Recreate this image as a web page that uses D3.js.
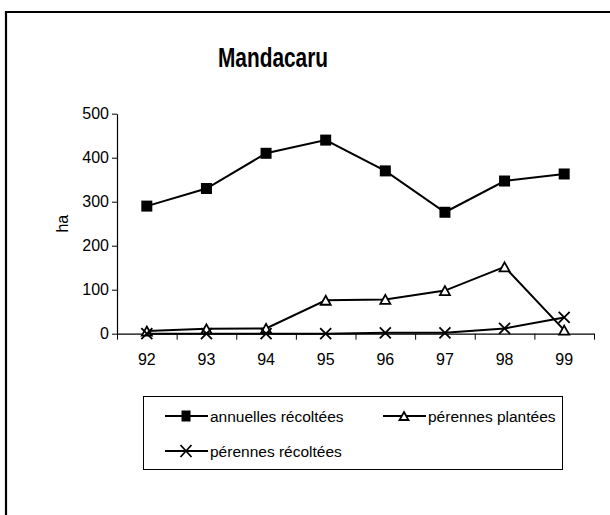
<!DOCTYPE html>
<html>
<head>
<meta charset="utf-8">
<script src="https://cdn.jsdelivr.net/npm/d3@7"></script>
<style>
  body { margin: 0; background: #fff; }
  text { font-family: "Liberation Sans", Arial, sans-serif; fill: #000; }
</style>
</head>
<body>
<div id="chart"></div>
<script>
// years on the x axis
var years = ["92", "93", "94", "95", "96", "97", "98", "99"];
// surfaces in ha
var annuellesRecoltees = [290, 330, 410, 440, 370, 276, 347, 363];
var perennesPlantees   = [6, 11, 12, 76, 78, 98, 152, 8];
var perennesRecoltees  = [0, 0, 0, 0, 2, 2, 12, 37];
var yTicks = [0, 100, 200, 300, 400, 500];

var series = [
  {name: "annuelles récoltées", values: annuellesRecoltees, marker: "square"},
  {name: "pérennes plantées", values: perennesPlantees, marker: "triangle"},
  {name: "pérennes récoltées", values: perennesRecoltees, marker: "cross"}
];

var width = 610, height = 515;

var svg = d3.select("#chart")
  .append("svg")
  .attr("width", width)
  .attr("height", height);

// outer frame (top and left edges visible)
svg.append("path")
  .attr("d", "M6," + height + " L6,12 L" + width + ",12")
  .attr("fill", "none")
  .attr("stroke", "#000")
  .attr("stroke-width", 2.2);

var x = d3.scaleBand().domain(years).range([117, 594]).padding(0);
var xEdges = d3.scaleLinear().domain([0, years.length]).range([117, 594]);
var y = d3.scaleLinear().domain([0, 500]).range([333.7, 113.7]);

function cx(i) { return x(years[i]) + x.bandwidth() / 2; }

// title
svg.append("text")
  .attr("x", 273)
  .attr("y", 66.5)
  .attr("text-anchor", "middle")
  .attr("font-size", 27)
  .attr("font-weight", "bold")
  .attr("textLength", 110)
  .attr("lengthAdjust", "spacingAndGlyphs")
  .text("Mandacaru");

// y axis
var yAxis = svg.append("g")
  .attr("transform", "translate(117,0)")
  .call(d3.axisLeft(y).tickValues(yTicks).tickSize(5).tickSizeOuter(0).tickPadding(3));
yAxis.select(".domain").attr("stroke", "#000").attr("stroke-width", 1.2);
yAxis.selectAll("line").attr("stroke", "#000");
yAxis.selectAll("text")
  .attr("font-size", 16)
  .attr("font-family", "Liberation Sans, Arial, sans-serif")
  .attr("fill", "#000");

svg.append("text")
  .attr("transform", "translate(68,223.7) rotate(-90)")
  .attr("text-anchor", "middle")
  .attr("font-size", 16)
  .text("ha");

// x axis: ticks between categories
var xAxis = svg.append("g")
  .attr("transform", "translate(0," + y(0) + ")")
  .call(d3.axisBottom(xEdges).ticks(years.length).tickSize(6).tickSizeOuter(0).tickFormat(""));
xAxis.select(".domain").attr("stroke", "#000").attr("stroke-width", 1.2);
xAxis.selectAll("line").attr("stroke", "#000");

svg.append("g").selectAll("text")
  .data(years)
  .enter()
  .append("text")
  .attr("x", function(d) { return x(d) + x.bandwidth() / 2; })
  .attr("y", 365)
  .attr("text-anchor", "middle")
  .attr("font-size", 16)
  .text(function(d) { return d; });

// markers
function drawMarker(g, type, px, py, w, h) {
  if (type === "square") {
    g.append("rect")
      .attr("x", px - w / 2).attr("y", py - h / 2)
      .attr("width", w).attr("height", h)
      .attr("fill", "#000");
  } else if (type === "triangle") {
    g.append("path")
      .attr("d", "M" + px + "," + (py - h / 2) + " L" + (px + w / 2) + "," + (py + h / 2) +
                 " L" + (px - w / 2) + "," + (py + h / 2) + " Z")
      .attr("fill", "#fff")
      .attr("stroke", "#000")
      .attr("stroke-width", 1.8);
  } else {
    g.append("path")
      .attr("d", "M" + (px - w / 2) + "," + (py - h / 2) + " L" + (px + w / 2) + "," + (py + h / 2) +
                 " M" + (px + w / 2) + "," + (py - h / 2) + " L" + (px - w / 2) + "," + (py + h / 2))
      .attr("fill", "none")
      .attr("stroke", "#000")
      .attr("stroke-width", 1.8);
  }
}

var line = d3.line()
  .x(function(d, i) { return cx(i); })
  .y(function(d) { return y(d); });

series.forEach(function(s) {
  var g = svg.append("g");
  g.append("path")
    .datum(s.values)
    .attr("d", line)
    .attr("fill", "none")
    .attr("stroke", "#000")
    .attr("stroke-width", 2);
  s.values.forEach(function(v, i) {
    if (s.marker === "square") drawMarker(g, "square", cx(i), y(v), 11, 11);
    else if (s.marker === "triangle") drawMarker(g, "triangle", cx(i), y(v), 10, 9);
    else drawMarker(g, "cross", cx(i), y(v), 11, 11);
  });
});

// legend
var legend = svg.append("g");
legend.append("rect")
  .attr("x", 143.5).attr("y", 396.5)
  .attr("width", 419).attr("height", 73)
  .attr("fill", "#fff")
  .attr("stroke", "#000")
  .attr("stroke-width", 1);

var legendPos = [[165, 416], [383, 416], [165, 451]];
series.forEach(function(s, i) {
  var lx = legendPos[i][0], ly = legendPos[i][1];
  var g = legend.append("g");
  g.append("line")
    .attr("x1", lx).attr("x2", lx + 43)
    .attr("y1", ly).attr("y2", ly)
    .attr("stroke", "#000").attr("stroke-width", 2);
  if (s.marker === "square") drawMarker(g, "square", lx + 21, ly, 9, 11);
  else if (s.marker === "triangle") drawMarker(g, "triangle", lx + 21, ly, 9, 8);
  else drawMarker(g, "cross", lx + 21, ly, 11, 12);
  g.append("text")
    .attr("x", lx + 45)
    .attr("y", ly + 5.5)
    .attr("font-size", 15.5)
    .text(s.name);
});
</script>
</body>
</html>
